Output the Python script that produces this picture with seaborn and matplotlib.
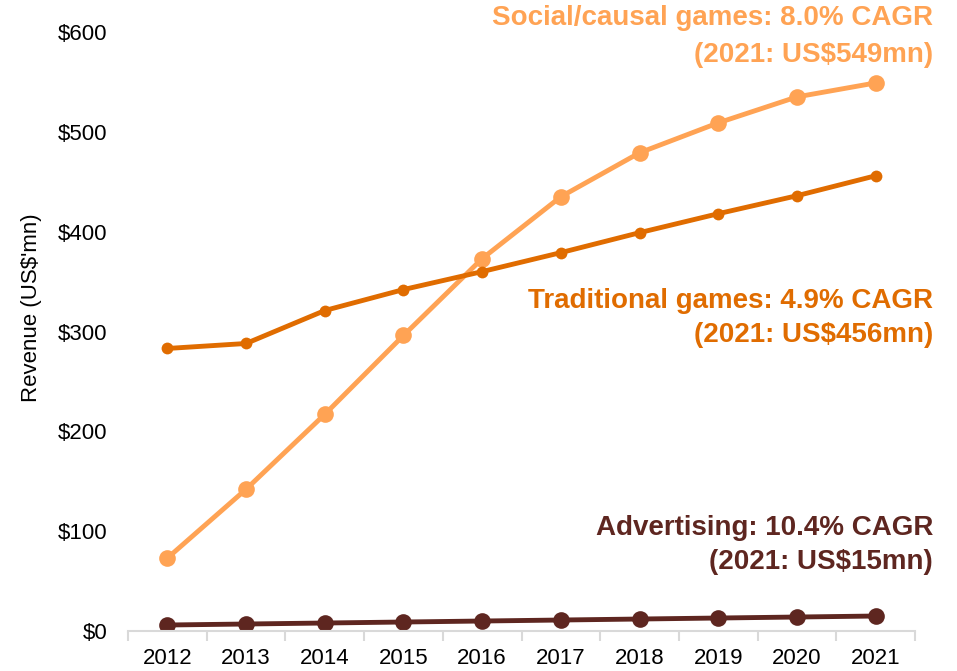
import numpy as np
import pandas as pd
import matplotlib
matplotlib.use("Agg")
import matplotlib.pyplot as plt
import seaborn as sns
from matplotlib.ticker import FixedLocator

years = ["2012", "2013", "2014", "2015", "2016", "2017", "2018", "2019", "2020", "2021"]
social = [73, 142, 217, 296, 373, 435, 479, 509, 535, 549]
traditional = [283, 288, 321, 342, 360, 379, 399, 418, 436, 456]
advertising = [6, 7, 8, 9, 10, 11, 12, 13, 14, 15]

series_names = ["Social/causal games", "Traditional games", "Advertising"]
series_values = [social, traditional, advertising]
series_colors = ["#FFA354", "#E06C00", "#5E2620"]
marker_sizes = [12, 8.5, 12]
label_lines = [
    ("Social/causal games: 8.0% CAGR", "(2021: US$549mn)"),
    ("Traditional games: 4.9% CAGR", "(2021: US$456mn)"),
    ("Advertising: 10.4% CAGR", "(2021: US$15mn)"),
]
label_y = [(18, 55), (301, 335), (528, 562)]  # pixel rows from top

sns.set_theme(style="white")
plt.rcParams["font.family"] = ["Liberation Sans", "DejaVu Sans"]

W, H = 957, 671
fig = plt.figure(figsize=(W / 100, H / 100), dpi=100)
ax = fig.add_axes([128 / W, 1 - 631 / H, (915 - 128) / W, (631 - 32) / H])

x = np.arange(len(years))
for name, vals, col, ms in zip(series_names, series_values, series_colors, marker_sizes):
    df = pd.DataFrame({"x": x, "y": vals})
    sns.lineplot(data=df, x="x", y="y", ax=ax, color=col, linewidth=3.5,
                 marker="o", markersize=ms, markeredgewidth=0, label=None)

ax.set_xlim(-0.5, len(years) - 0.5)
ax.set_ylim(0, 600)
ax.set_yticks(range(0, 601, 100))
ax.set_yticklabels([f"${v}" for v in range(0, 601, 100)])
ax.set_xticks(x)
ax.set_xticklabels(years)
ax.xaxis.set_minor_locator(FixedLocator(np.arange(-0.5, len(years), 1.0)))
ax.tick_params(axis="x", which="major", length=0, labelsize=16, pad=12, colors="black")
ax.tick_params(axis="x", which="minor", length=7, width=1.5, color="#D9D9D9", bottom=True)
ax.tick_params(axis="y", length=0, labelsize=16, pad=15, colors="black")
for s in ["top", "right", "left"]:
    ax.spines[s].set_visible(False)
ax.spines["bottom"].set_color("#D9D9D9")
ax.spines["bottom"].set_linewidth(1.5)
ax.set_xlabel("")
ax.set_ylabel("")
ax.grid(False)

fig.text(32 / W, 1 - 308 / H, "Revenue (US$'mn)", rotation=90, ha="center",
         va="center", fontsize=16, color="black")

for (l1, l2), (y1, y2), col in zip(label_lines, label_y, series_colors):
    fig.text(933 / W, 1 - y1 / H, l1, ha="right", va="center", fontsize=20,
             fontweight="bold", color=col)
    fig.text(933 / W, 1 - y2 / H, l2, ha="right", va="center", fontsize=20,
             fontweight="bold", color=col)

fig.savefig("out.png", dpi=100)
